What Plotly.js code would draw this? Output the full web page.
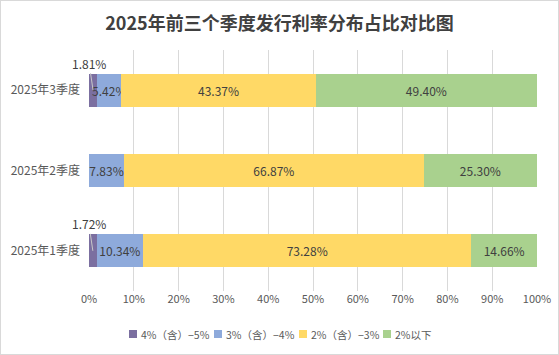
<!DOCTYPE html>
<html><head><meta charset="utf-8">
<script src="https://cdn.plot.ly/plotly-3.0.1.min.js"></script>
<style>html,body{margin:0;padding:0;background:#fff;}#chart{width:557px;height:353px;border:1px solid #d9d9d9;}</style>
</head><body><div id="chart"></div>
<script>
const categories = ['2025年1季度', '2025年2季度', '2025年3季度'];
const seriesNames = ['4%（含）−5%', '3%（含）−4%', '2%（含）−3%', '2%以下'];
const s4to5 = [1.72, 0, 1.81];
const s3to4 = [10.34, 7.83, 5.42];
const s2to3 = [73.28, 66.87, 43.37];
const sBelow2 = [14.66, 25.30, 49.40];
const tickVals = [0, 10, 20, 30, 40, 50, 60, 70, 80, 90, 100];
const tickText = tickVals.map(v => v + '%');
const colors = ['#7b6fa0', '#8eaadb', '#ffd966', '#a9d18e'];
const seriesData = [s4to5, s3to4, s2to3, sBelow2];
const FONT = '"Noto Sans CJK SC", "Noto Sans", sans-serif';

const W = 557, H = 353, ML = 88, MR = 21, MT = 49, MB = 63;
const pw = W - ML - MR, ph = H - MT - MB;
const px = sx => (sx - 1 - ML) / pw;          // screen x -> paper x
const py = sy => (H - MB - (sy - 1)) / ph;    // screen y -> paper y

const traces = seriesData.map((vals, i) => ({
  type: 'bar', orientation: 'h', name: seriesNames[i],
  y: categories, x: vals,
  marker: {color: colors[i]},
  text: i === 0 ? vals.map(() => '') : vals.map(v => v > 0 ? v.toFixed(2) + '%' : ''),
  textposition: i === 0 ? 'none' : 'inside',
  insidetextanchor: 'middle', textangle: 0, constraintext: 'none',
  insidetextfont: {color: '#404040', size: 12, family: FONT},
  hoverinfo: 'none', showlegend: false
}));

const annotations = [];
s4to5.forEach((v, k) => {
  if (v > 0) {
    annotations.push({
      x: v / 2, y: categories[k], xref: 'x', yref: 'y',
      text: v.toFixed(2) + '%', showarrow: true, arrowhead: 0, arrowwidth: 1,
      arrowcolor: '#c8c8c8', ax: -4, ay: -27, standoff: 0,
      font: {size: 12, color: '#404040', family: FONT}
    });
  }
});

// manual compact legend
const legendSquareX = [129, 214, 299, 383];
const legendY = 334;
const shapes = [];
seriesNames.forEach((name, i) => {
  shapes.push({type: 'rect', xref: 'paper', yref: 'paper',
    x0: px(legendSquareX[i]), x1: px(legendSquareX[i] + 8),
    y0: py(legendY + 4), y1: py(legendY - 4),
    fillcolor: colors[i], line: {width: 0}});
  annotations.push({xref: 'paper', yref: 'paper', x: px(legendSquareX[i] + 10), y: py(legendY),
    xanchor: 'left', yanchor: 'middle', showarrow: false, text: name,
    font: {size: 10.5, color: '#595959', family: FONT}});
});

const layout = {
  width: W, height: H,
  margin: {l: ML, r: MR, t: MT, b: MB},
  paper_bgcolor: '#fff', plot_bgcolor: '#fff',
  barmode: 'stack', bargap: 0.59,
  title: {text: '2025年前三个季度发行利率分布占比对比图', x: 0.5, xanchor: 'center', y: 0.935, yanchor: 'middle',
    font: {size: 18, color: '#404040', family: FONT, weight: 'bold'}},
  xaxis: {range: [0, 100], tickvals: tickVals, ticktext: tickText, showgrid: true, gridcolor: '#d9d9d9', gridwidth: 1,
    zeroline: false, showline: false, ticks: '', tickfont: {size: 11, color: '#595959', family: FONT}, fixedrange: true, automargin: false},
  yaxis: {showgrid: false, zeroline: false, showline: false, ticks: '', ticklabelstandoff: 8,
    tickfont: {size: 12, color: '#595959', family: FONT}, categoryorder: 'array', categoryarray: categories, fixedrange: true, automargin: false},
  annotations: annotations,
  shapes: shapes,
  showlegend: false
};
Plotly.newPlot('chart', traces, layout, {displayModeBar: false, staticPlot: true});
</script></body></html>
